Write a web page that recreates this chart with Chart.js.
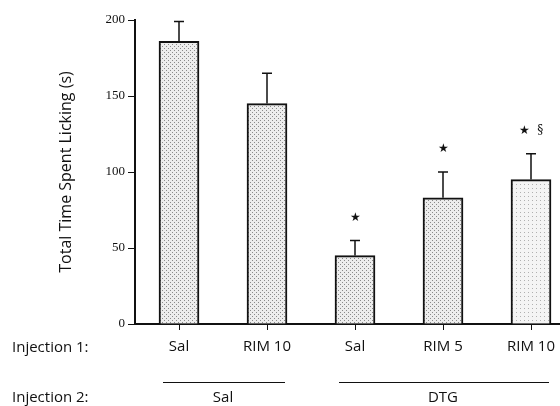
<!DOCTYPE html>
<html>
<head>
<meta charset="utf-8">
<script src="https://cdn.jsdelivr.net/npm/chart.js@4.4.0/dist/chart.umd.min.js"></script>
<style>
  html, body { margin: 0; padding: 0; background: #fff; overflow: hidden; }
  #wrap { width: 580px; height: 406px; position: relative; }
</style>
</head>
<body>
<div id="wrap"><canvas id="chart"></canvas></div>
<script>
// --- data ---
const injection1 = ['Sal', 'RIM 10', 'Sal', 'RIM 5', 'RIM 10'];
const licking = [186, 145, 45, 83, 95];     // mean time (s)
const errors = [13, 20, 10, 17, 17];        // SEM, upper only
const marks = ['', '', '★', '★', '★  §'];
const injection2Labels = ['Sal', 'DTG'];
const injection2First = [0, 2];
const injection2Last = [1, 4];
const yTicks = [0, 50, 100, 150, 200];

// stippled fill like the scanned print
function stipple(bg, dot, sparse) {
    const c = document.createElement('canvas');
    c.width = 4; c.height = 4;
    const g = c.getContext('2d');
    g.fillStyle = bg;
    g.fillRect(0, 0, 4, 4);
    g.fillStyle = dot;
    g.fillRect(0, 0, 1, 1);
    if (!sparse) g.fillRect(2, 2, 1, 1);
    return g.createPattern(c, 'repeat');
}
const dense = stipple('#ededed', '#8a8a8a', false);
const light = stipple('#f4f4f4', '#b0b0b0', true);

const sans = '"Open Sans", Lato, sans-serif';

const extras = {
    id: 'extras',
    afterDatasetsDraw(chart) {
        const { ctx, scales: { x, y } } = chart;
        ctx.save();
        ctx.strokeStyle = '#111';
        ctx.fillStyle = '#111';
        ctx.lineWidth = 1.5;
        ctx.textAlign = 'center';
        ctx.textBaseline = 'middle';
        licking.forEach((v, i) => {
            const px = x.getPixelForValue(i);
            const top = y.getPixelForValue(v);
            const tip = y.getPixelForValue(v + errors[i]);
            ctx.beginPath();
            ctx.moveTo(px, top);
            ctx.lineTo(px, tip);
            ctx.moveTo(px - 5, tip);
            ctx.lineTo(px + 5, tip);
            ctx.stroke();
            if (marks[i]) {
                ctx.font = '12px "DejaVu Serif"';
                ctx.fillText(marks[i], px, tip - 23);
            }
        });

        // row labels and injection 2 groups
        ctx.font = '15px ' + sans;
        ctx.textAlign = 'left';
        ctx.fillText('Injection 1:', 12, 348);
        ctx.fillText('Injection 2:', 12, 398);
        ctx.lineWidth = 1;
        ctx.textAlign = 'center';
        injection2Labels.forEach((lab, k) => {
            const a = x.getPixelForValue(injection2First[k]) - 16;
            const b = x.getPixelForValue(injection2Last[k]) + 18;
            ctx.beginPath();
            ctx.moveTo(a, 382.5);
            ctx.lineTo(b, 382.5);
            ctx.stroke();
            ctx.fillText(lab, (a + b) / 2 - 1, 398);
        });
        ctx.restore();
    }
};

new Chart(document.getElementById('chart'), {
    type: 'bar',
    data: {
        labels: injection1,
        datasets: [{
            data: licking,
            backgroundColor: [dense, dense, dense, dense, light],
            borderColor: '#111',
            borderWidth: { top: 2, left: 2, right: 2, bottom: 0 },
            borderSkipped: 'bottom',
            barThickness: 40
        }]
    },
    options: {
        responsive: true,
        maintainAspectRatio: false,
        animation: false,
        layout: { padding: { top: 20, right: 5, bottom: 0, left: 0 } },
        plugins: { legend: { display: false }, tooltip: { enabled: false } },
        scales: {
            x: {
                grid: { display: true, drawOnChartArea: false, offset: false, color: '#111', tickLength: 6, lineWidth: 1 },
                border: { display: true, color: '#111', width: 2 },
                ticks: { color: '#111', font: { family: sans, size: 15 }, padding: 8, maxRotation: 0 },
                afterFit(scale) { scale.height = 82; }
            },
            y: {
                min: 0,
                max: 200,
                afterBuildTicks(scale) { scale.ticks = yTicks.map(v => ({ value: v })); },
                grid: { display: true, drawOnChartArea: false, color: '#111', tickLength: 7, lineWidth: 1 },
                border: { display: true, color: '#111', width: 2 },
                ticks: { color: '#111', font: { family: '"Liberation Serif", serif', size: 13 }, padding: 3 },
                title: {
                    display: true,
                    text: 'Total Time Spent Licking (s)',
                    color: '#111',
                    font: { family: sans, size: 16 },
                    padding: { top: 57, bottom: 0 }
                },
                afterFit(scale) { scale.width = 135; }
            }
        }
    },
    plugins: [extras]
});
</script>
</body>
</html>
